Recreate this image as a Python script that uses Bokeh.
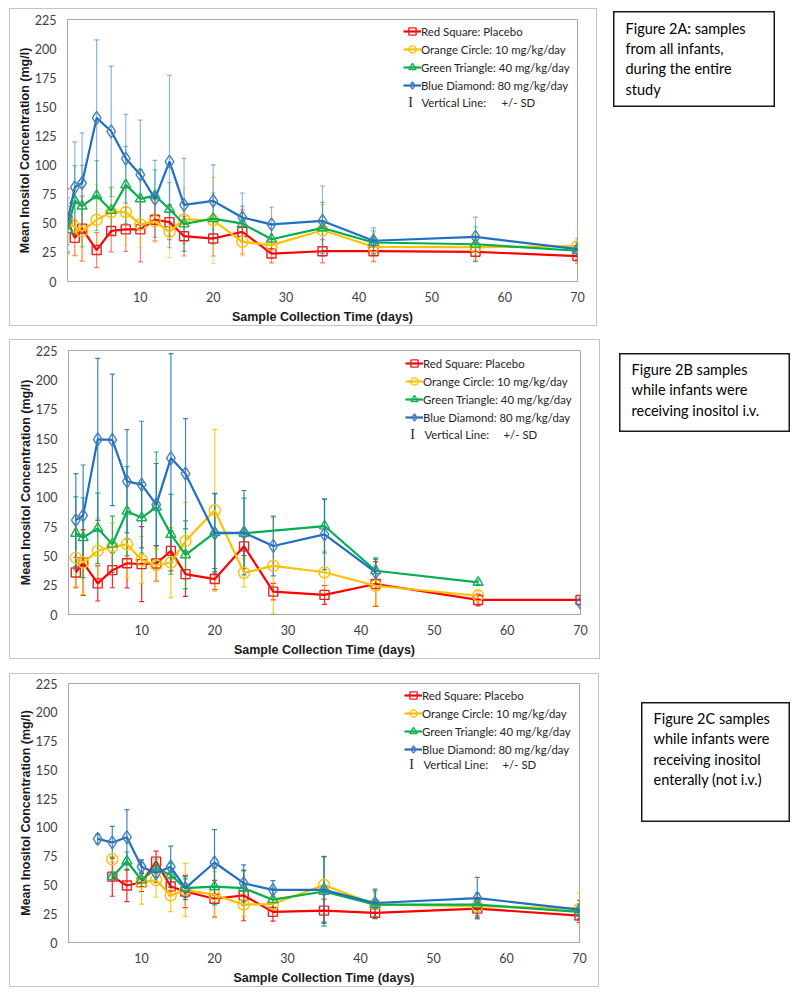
import math
from bokeh.plotting import figure
from bokeh.models import (ColumnDataSource, Whisker, TeeHead, Legend, LegendItem, Label,
                          FixedTicker, Range1d, Spacer)
from bokeh.layouts import column, row
from bokeh.embed import file_html
from bokeh.resources import INLINE

NaN = float("nan")

# ---------------- texts / ticks ----------------
X_TICKS = [10, 20, 30, 40, 50, 60, 70]
Y_TICKS = [0, 25, 50, 75, 100, 125, 150, 175, 200, 225]
X_TITLE = "Sample Collection Time (days)"
Y_TITLE = "Mean Inositol Concentration (mg/l)"
SERIES_NAMES = ["Red Square: Placebo", "Orange Circle: 10 mg/kg/day",
                "Green Triangle: 40 mg/kg/day", "Blue Diamond: 80 mg/kg/day"]
SD_MARK = "I"
SD_TEXT_1 = "Vertical Line:"
SD_TEXT_2 = "+/- SD"
NOTE_A = "Figure 2A: samples\nfrom all infants,\nduring the entire\nstudy"
NOTE_B = "Figure 2B  samples\nwhile infants were\nreceiving inositol i.v."
NOTE_C = "Figure 2C   samples\nwhile  infants were\nreceiving inositol\nenterally (not i.v.)"

# ---------------- Figure 2A data ----------------
A_DAYS = [0, 1, 2, 4, 6, 8, 10, 12, 14, 16, 20, 24, 28, 35, 42, 56, 70]
A_RED = [52.5, 37.5, 45.4, 27, 43.4, 44.8, 44.8, 53, 51, 38.9, 36.9, 42.6, 24, 26, 26, 25.5, 21.8]
A_RED_SD = [27, 15, 28, 15, 18, 19, 28, 18, 15, 17, 15, 19, 8, 10, 9, 8, 6]
A_ORANGE = [51, 46.8, 43, 53, 59.6, 59.6, 49, 51.6, 42.6, 53.3, 52.5, 34, 31.2, 44, 29.8, 29.5, 30.3]
A_ORANGE_SD = [28, 25, 25, 30, 20, 28, 20, 18, 22, 27, 37, 12, 10, 22, 12, 10, 15]
A_GREEN = [44.5, 69.5, 64.7, 73.8, 61, 83, 71, 73.8, 62, 49.4, 54, 49.7, 36.3, 46, 33.5, 32, 26.4]
A_GREEN_SD = [20, 30, 35, 30, 20, 33, 25, 22, 23, 17, 22, 15, 12, 22, 10, 15, 7]
A_BLUE = [51.6, 80.9, 84.6, 140.5, 129, 105.6, 91.7, 71, 103, 65.8, 69.2, 55, 49, 52, 35, 38.3, 27.8]
A_BLUE_SD = [20, 39, 43, 67, 56, 38, 47, 33, 74, 40, 31, 21, 15, 30, 11, 17, 9]

# ---------------- Figure 2B data ----------------
B_DAYS = [1, 2, 4, 6, 8, 10, 12, 14, 16, 20, 24, 28, 35, 42, 56, 70]
B_RED = [35.8, 44.3, 26.5, 37.8, 43.7, 42.9, 43.5, 54.2, 34.4, 30.2, 58.1, 19.5, 16.7, 26, 12.4, 12.4]
B_RED_SD = [13, 28, 15, 15, 21, 32, 15, 17, 19, 9, 8, 7, 8, 19, 5, 0]
B_ORANGE = [48.5, 44.3, 54.2, 57.9, 59.8, 46.5, 42, 44.3, 62.6, 88.8, 35.5, 41.5, 36, 24.5, 16, NaN]
B_ORANGE_SD = [25, 27, 28, 20, 28, 20, 14, 30, 33, 69, 12, 41, 18, 17, 5, NaN]
B_GREEN_DAYS = [1, 2, 4, 6, 8, 10, 12, 14, 16, 20, 24, 35, 42, 56]
B_GREEN = [69.2, 65.5, 73.4, 59.9, 88, 82.4, 91.5, 68.3, 50.8, 69.7, 69.2, 75.4, 37.3, 27.4]
B_GREEN_SD = [31, 34, 30, 24, 38, 30, 47, 34, 29, 33, 30, 23, 11, 2]
B_BLUE = [80.5, 84.4, 149.3, 148.8, 113.5, 110.7, 93.7, 133.3, 120, 69.2, 69.7, 58.4, 68.3, 35.9, NaN, 10]
B_BLUE_SD = [39.5, 43, 69, 56, 44, 54, 35, 89, 47, 34, 36, 25.5, 30, 11, NaN, 2]

# ---------------- Figure 2C data ----------------
C_DAYS = [4, 6, 8, 10, 12, 14, 16, 20, 24, 28, 35, 42, 56, 70]
C_RED = [NaN, 57.2, 49.5, 52.3, 70.3, 48.6, 44.3, 38, 40.9, 26.6, 27.7, 25.7, 29.4, 23.4]
C_RED_SD = [NaN, 17, 14, 8, 9, 8, 14, 16, 22, 8, 10, 5, 8, 6]
C_ORANGE = [NaN, 72.3, NaN, 52.3, 54.3, 40.9, 45.7, 41.5, 32.9, 33.4, 50, 32.9, 31.5, 29.4]
C_ORANGE_SD = [NaN, 2, NaN, 19, 15, 14, 23, 20, 10, 6, 25, 10, 8, 14]
C_GREEN = [NaN, 57.2, 70.6, 54.3, 64.3, 58.6, 47.2, 48.6, 47.2, 37.2, 44.3, 32.9, 32.9, 26.6]
C_GREEN_SD = [NaN, 3, 8, 6, 8, 10, 8, 16, 15, 10, 30, 12, 10, 6]
C_BLUE = [90, 86.9, 91.5, 65.8, 60.3, 65.8, 47.2, 69.5, 51.5, 45.7, 45.7, 34.3, 38.6, 28.6]
C_BLUE_SD = [4, 14, 24, 6, 8, 18, 10, 28.5, 16, 8, 29, 12, 18, 8]

# ---------------- styles ----------------
TICK_FONT = "Lato"
TITLE_FONT = "Liberation Sans"
AXIS_GRAY = "#a6a6a6"
STYLES = [  # line color, marker color, marker, size
    ("#ff0000", "#e8202a", "square", 9),
    ("#ffc000", "#ffc000", "circle", 11),
    ("#00b050", "#1aaf54", "triangle", 10),
    ("#1f70c1", "#4a7ebb", "diamond", 13),
]
LEG_FONT_SIZE = "11.4px"


def add_series(p, days, mean, sd, style, err_alpha):
    lc, mc, marker, size = style
    wx, lo, hi = [], [], []
    for d, m, s in zip(days, mean, sd):
        if not (math.isnan(m) or math.isnan(s)):
            wx.append(d); lo.append(m - s); hi.append(m + s)
    wsrc = ColumnDataSource(dict(x=wx, lo=lo, hi=hi))
    w = Whisker(source=wsrc, base="x", lower="lo", upper="hi", dimension="height",
                line_color=lc, line_alpha=err_alpha, line_width=1.2,
                upper_head=TeeHead(size=5, line_color=lc, line_alpha=err_alpha, line_width=1.2),
                lower_head=TeeHead(size=5, line_color=lc, line_alpha=err_alpha, line_width=1.2))
    p.add_layout(w)
    src = ColumnDataSource(dict(x=days, y=mean))
    lr = p.line("x", "y", source=src, line_color=lc, line_width=2.2)
    sr = p.scatter("x", "y", source=src, marker=marker, size=size, line_color=mc,
                   fill_color=None, line_width=1.4)
    return lr, sr


def make_chart(W, H, L, R, T, B, series, err_alpha, legend_loc, sd_pos):
    p = figure(width=W, height=H, x_range=Range1d(0, 70), y_range=Range1d(0, 225),
               output_backend="svg", toolbar_location=None,
               min_border_left=L, min_border_right=R, min_border_top=T, min_border_bottom=B,
               styles={"box-shadow": "inset 0 0 0 1px #c4c4c4", "background": "white"})
    p.xgrid.visible = False
    p.ygrid.visible = False
    p.outline_line_color = AXIS_GRAY
    p.outline_line_width = 1
    p.background_fill_color = "white"
    p.border_fill_alpha = 0
    for ax in (p.xaxis[0], p.yaxis[0]):
        ax.axis_line_color = AXIS_GRAY
        ax.major_tick_line_color = None
        ax.minor_tick_line_color = None
        ax.major_tick_out = 0
        ax.major_tick_in = 0
        ax.minor_tick_out = 0
        ax.minor_tick_in = 0
        ax.major_label_text_font = TICK_FONT
        ax.major_label_text_font_size = "12.5px"
        ax.major_label_text_color = "#404040"
        ax.axis_label_text_font = TITLE_FONT
        ax.axis_label_text_font_style = "bold"
        ax.axis_label_text_font_size = "12.5px"
        ax.axis_label_text_color = "#1a1a1a"
    p.xaxis.ticker = FixedTicker(ticks=X_TICKS)
    p.yaxis.ticker = FixedTicker(ticks=Y_TICKS)
    p.xaxis.axis_label = X_TITLE
    p.yaxis.axis_label = Y_TITLE
    p.xaxis.major_label_standoff = 10
    p.yaxis.major_label_standoff = 11
    p.xaxis.axis_label_standoff = 5
    p.yaxis.axis_label_standoff = 0

    items = []
    for (days, mean, sd), style, name in zip(series, STYLES, SERIES_NAMES):
        lr, sr = add_series(p, days, mean, sd, style, err_alpha)
        items.append(LegendItem(label=name, renderers=[lr, sr]))
    leg = Legend(items=items, location=legend_loc, border_line_alpha=0,
                 background_fill_alpha=0, padding=0, margin=0, glyph_width=18,
                 glyph_height=18, label_height=18, spacing=0, label_standoff=0,
                 label_text_font=TICK_FONT, label_text_font_size=LEG_FONT_SIZE,
                 label_text_color="#262626")
    p.add_layout(leg)

    ix, tx1, tx2, ty = sd_pos
    p.add_layout(Label(x=ix, y=ty, x_units="canvas", y_units="canvas", text=SD_MARK,
                       text_font="Liberation Serif", text_font_size="14px", text_align="center",
                       text_baseline="middle", text_color="#262626"))
    p.add_layout(Label(x=tx1, y=ty, x_units="canvas", y_units="canvas", text=SD_TEXT_1,
                       text_font=TICK_FONT, text_font_size=LEG_FONT_SIZE, text_baseline="middle",
                       text_color="#262626"))
    p.add_layout(Label(x=tx2, y=ty, x_units="canvas", y_units="canvas", text=SD_TEXT_2,
                       text_font=TICK_FONT, text_font_size=LEG_FONT_SIZE, text_baseline="middle",
                       text_color="#262626"))
    return p


def make_note(W, H, text, tx, ty):
    n = figure(width=W, height=H, x_range=Range1d(0, 1), y_range=Range1d(0, 1),
               output_backend="svg", toolbar_location=None, x_axis_type=None, y_axis_type=None,
               min_border=0, min_border_left=0, min_border_right=0, min_border_top=0,
               min_border_bottom=0,
               styles={"box-shadow": "inset 0 0 0 1.5px #1a1a1a", "background": "white"})
    n.xgrid.visible = False
    n.ygrid.visible = False
    n.outline_line_color = None
    n.background_fill_alpha = 0
    n.border_fill_alpha = 0
    n.add_layout(Label(x=tx, y=ty, x_units="canvas", y_units="canvas", text=text,
                       text_font=TICK_FONT, text_font_size="14.5px", text_line_height=1.2,
                       text_align="left", text_baseline="top", text_color="#000000"))
    return n


chartA = make_chart(588, 318, 58, 20, 11, 43,
                    [(A_DAYS, A_RED, A_RED_SD), (A_DAYS, A_ORANGE, A_ORANGE_SD),
                     (A_DAYS, A_GREEN, A_GREEN_SD), (A_DAYS, A_BLUE, A_BLUE_SD)],
                    0.5, (336, 187), (401, 412, 492, 94))
chartB = make_chart(591, 320, 59, 20, 11, 43,
                    [(B_DAYS, B_RED, B_RED_SD), (B_DAYS, B_ORANGE, B_ORANGE_SD),
                     (B_GREEN_DAYS, B_GREEN, B_GREEN_SD), (B_DAYS, B_BLUE, B_BLUE_SD)],
                    0.85, (337, 188), (403, 415, 494, 95))
chartC = make_chart(590, 314, 59, 20, 10, 42,
                    [(C_DAYS, C_RED, C_RED_SD), (C_DAYS, C_ORANGE, C_ORANGE_SD),
                     (C_DAYS, C_GREEN, C_GREEN_SD), (C_DAYS, C_BLUE, C_BLUE_SD)],
                    0.85, (336, 184), (402, 414, 493, 91))

noteA = make_note(162, 96, NOTE_A, 12, 8)
noteB = make_note(171, 79, NOTE_B, 12, 7.5)
noteC = make_note(149, 120, NOTE_C, 12, 7.5)

rowA = row(Spacer(width=9), chartA, Spacer(width=16), column(Spacer(height=3), noteA))
rowB = row(Spacer(width=9), chartB, Spacer(width=19), column(Spacer(height=14), noteB))
rowC = row(Spacer(width=9), chartC, Spacer(width=42), column(Spacer(height=29), noteC))

layout = column(Spacer(height=8), rowA, Spacer(height=13), rowB, Spacer(height=14), rowC)
open("out.html", "w").write(file_html(layout, INLINE))
